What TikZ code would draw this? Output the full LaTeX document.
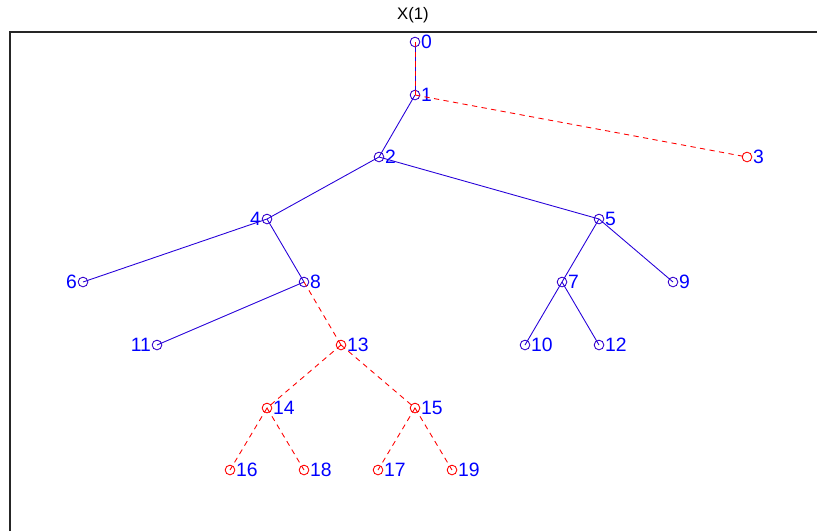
\documentclass[tikz,border=0pt]{standalone}
\usepackage{fontspec}
\setmainfont{Liberation Sans}
\usetikzlibrary{positioning}
\tikzset{
  vert/.style={circle, draw=blue!80!red, line width=0.5pt, inner sep=0pt, minimum size=5.5pt},
  redvert/.style={vert, draw=red},
  numlabel/.style={text=blue, font=\fontsize{11}{13}\selectfont, inner sep=0.3pt},
  treeedge/.style={blue!85!red, line width=0.5pt},
  cutedge/.style={red, line width=0.5pt, dash pattern=on 3pt off 2.5pt}
}

\begin{document}
\begin{tikzpicture}[x=0.02cm, y=-0.02cm]
  \useasboundingbox (0,0) rectangle (817,531);
  \node[font=\fontsize{9.5}{11}\selectfont] (title) at (413,15) {X(1)};
  \draw[line width=0.8pt, black!85] (10,531) -- (10,32) -- (817,32);
  % vertices of the tree
  \foreach \n/\x/\y/\p in {0/415/42/right, 1/415/95/right, 2/379/157/right, 4/267/219/left,
      5/599/219/right, 6/83/282/left, 7/562/282/right, 8/304/282/right, 9/673/282/right,
      10/525/345/right, 11/157/345/left, 12/599/345/right}
    \node[vert, label={[numlabel]\p:\n}] (n\n) at (\x,\y) {};
  \foreach \n/\x/\y in {3/747/157, 13/341/345, 14/267/408, 15/415/408,
      16/230/470, 17/378/470, 18/304/470, 19/452/470}
    \node[redvert, label={[numlabel]right:\n}] (n\n) at (\x,\y) {};
  % edges
  \foreach \a/\b in {0/1, 1/2, 2/4, 2/5, 4/6, 4/8, 5/7, 5/9, 7/10, 7/12, 8/11}
    \draw[treeedge] (n\a.center) -- (n\b.center);
  \foreach \a/\b in {0/1, 1/3, 8/13, 13/14, 13/15, 14/16, 14/18, 15/17, 15/19}
    \draw[cutedge] (n\a.center) -- (n\b.center);
\end{tikzpicture}
\end{document}
